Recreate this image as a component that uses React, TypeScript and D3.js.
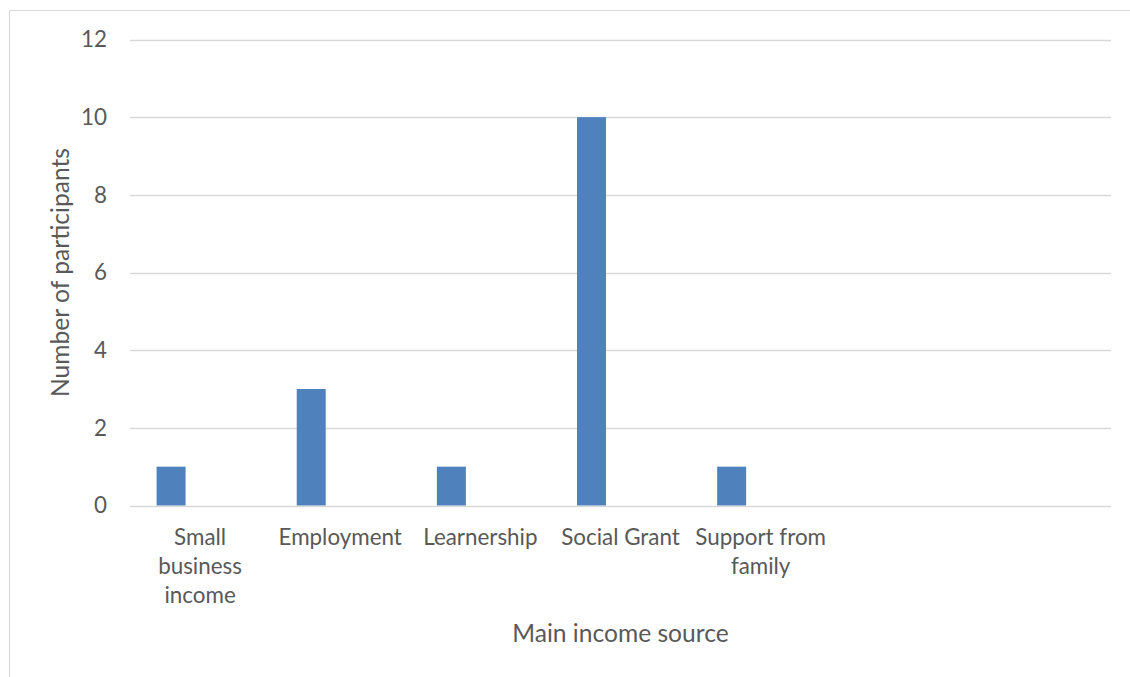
import React, { useEffect, useRef } from "react";
import * as d3 from "d3";

const categories: string[][] = [
  ["Small", "business", "income"],
  ["Employment"],
  ["Learnership"],
  ["Social Grant"],
  ["Support from", "family"],
  [],
  [],
];
const seriesSlots = ["Participants", "slot2", "slot3"];
const participants = [1, 3, 1, 10, 1, null, null];
const yTicks = [0, 2, 4, 6, 8, 10, 12];
const xTitle = "Main income source";
const yTitle = "Number of participants";

const W = 1130;
const H = 677;
const M = { left: 130, right: 1111, top: 39.5, bottom: 505.5 };
const FONT = "Lato, 'Open Sans', sans-serif";
const TXT = "#595959";
const LABEL_SIZE = 22.4;
const TITLE_SIZE = 24.6;

export default function App() {
  const ref = useRef<SVGSVGElement>(null);
  useEffect(() => {
    const svg = d3.select(ref.current);
    svg.selectAll("*").remove();

    const x0 = d3
      .scaleBand<number>()
      .domain(categories.map((_, i) => i))
      .range([M.left, M.right])
      .paddingInner(0)
      .paddingOuter(0);
    const x1 = d3
      .scaleBand<string>()
      .domain(seriesSlots)
      .range([0, x0.bandwidth()])
      .paddingInner(0)
      .paddingOuter(0.917);
    const y = d3.scaleLinear().domain([0, 12]).range([M.bottom, M.top]);

    // chart border
    svg
      .append("path")
      .attr("d", `M9.5,${H} V10.5 H${W}`)
      .attr("fill", "none")
      .attr("stroke", "#d9d9d9")
      .attr("stroke-width", 1);

    // gridlines
    svg
      .append("g")
      .selectAll("line")
      .data(yTicks)
      .join("line")
      .attr("x1", M.left)
      .attr("x2", M.right)
      .attr("y1", (d) => Math.round(y(d)) + 0.5)
      .attr("y2", (d) => Math.round(y(d)) + 0.5)
      .attr("stroke", "#d9d9d9")
      .attr("stroke-width", 1.5);

    // y tick labels
    svg
      .append("g")
      .selectAll("text")
      .data(yTicks)
      .join("text")
      .attr("x", 107)
      .attr("y", (d) => y(d))
      .attr("dy", "0.35em")
      .attr("text-anchor", "end")
      .attr("font-family", FONT)
      .attr("font-size", LABEL_SIZE)
      .attr("fill", TXT)
      .text((d) => d);

    // bars
    svg
      .append("g")
      .selectAll("rect")
      .data(participants.map((v, i) => ({ v, i })).filter((d) => d.v != null))
      .join("rect")
      .attr("x", (d) => x0(d.i)! + x1(seriesSlots[0])!)
      .attr("width", x1.bandwidth())
      .attr("y", (d) => y(d.v as number))
      .attr("height", (d) => y(0) - y(d.v as number))
      .attr("fill", "#4F81BD");

    // category labels
    const cg = svg.append("g");
    categories.forEach((lines, i) => {
      const cx = x0(i)! + x0.bandwidth() / 2;
      lines.forEach((line, j) => {
        cg.append("text")
          .attr("x", cx)
          .attr("y", 537 + j * 29)
          .attr("dy", "0.35em")
          .attr("text-anchor", "middle")
          .attr("font-family", FONT)
          .attr("font-size", LABEL_SIZE)
          .attr("fill", TXT)
          .text(line);
      });
    });

    // axis titles
    svg
      .append("text")
      .attr("x", (M.left + M.right) / 2)
      .attr("y", 633)
      .attr("dy", "0.35em")
      .attr("text-anchor", "middle")
      .attr("font-family", FONT)
      .attr("font-size", TITLE_SIZE)
      .attr("fill", TXT)
      .text(xTitle);

    svg
      .append("text")
      .attr("transform", `translate(60,${(M.top + M.bottom) / 2}) rotate(-90)`)
      .attr("dy", "0.35em")
      .attr("text-anchor", "middle")
      .attr("font-family", FONT)
      .attr("font-size", TITLE_SIZE)
      .attr("fill", TXT)
      .text(yTitle);
  }, []);

  return (
    <svg
      ref={ref}
      width={W}
      height={H}
      style={{ position: "absolute", left: 0, top: 0, background: "#fff" }}
    />
  );
}
